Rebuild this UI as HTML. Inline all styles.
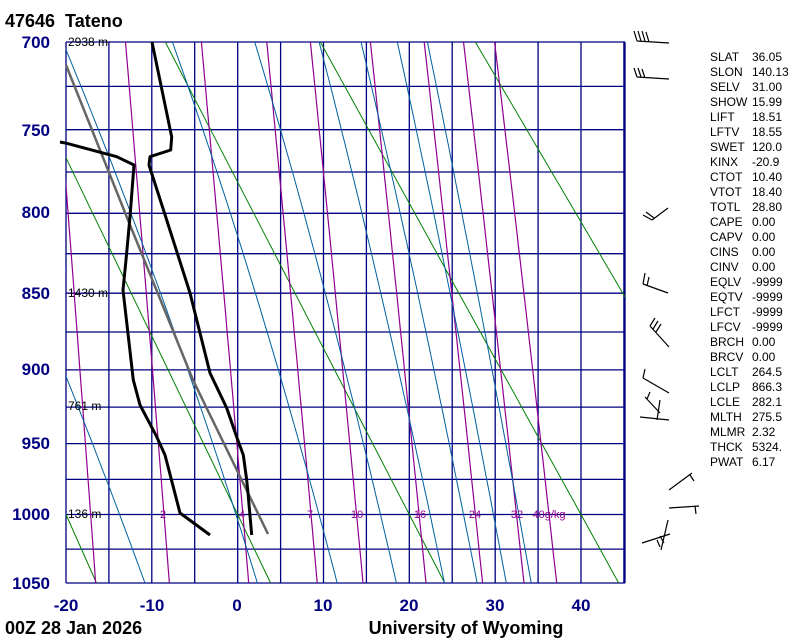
<!DOCTYPE html>
<html><head><meta charset="utf-8">
<style>
html,body{margin:0;padding:0;background:#fff;}
svg{display:block;}
.ax{font-family:"Liberation Sans",sans-serif;font-weight:bold;font-size:17px;fill:#000080;}
.ttl{font-family:"Liberation Sans",sans-serif;font-weight:bold;font-size:18px;fill:#000;white-space:pre;}
.hm{font-family:"Liberation Sans",sans-serif;font-size:12px;fill:#000;}
.mr{font-family:"Liberation Sans",sans-serif;font-size:11px;fill:#900090;}
.tb{font-family:"Liberation Sans",sans-serif;font-size:12px;fill:#000;}
</style></head>
<body>
<svg id="s" width="800" height="640" viewBox="0 0 800 640" xmlns="http://www.w3.org/2000/svg">
<defs><clipPath id="c"><rect x="66" y="42" width="559" height="541"/></clipPath></defs>
<g id="grid"></g>
<g id="curves" clip-path="url(#c)"></g>
<g id="prof"></g>
<text class="ttl" x="5" y="27" xml:space="preserve">47646  Tateno</text>
<text class="ttl" x="5" y="634">00Z 28 Jan 2026</text>
<text class="ttl" x="466" y="634" text-anchor="middle">University of Wyoming</text>
<g class="ax" text-anchor="end">
<text x="50" y="48">700</text>
<text x="50" y="136">750</text>
<text x="50" y="218">800</text>
<text x="50" y="299">850</text>
<text x="50" y="375">900</text>
<text x="50" y="449">950</text>
<text x="50" y="520">1000</text>
<text x="50" y="589">1050</text>
</g>
<g class="ax" text-anchor="middle">
<text x="66" y="611">-20</text>
<text x="152" y="611">-10</text>
<text x="237" y="611">0</text>
<text x="323" y="611">10</text>
<text x="409" y="611">20</text>
<text x="495" y="611">30</text>
<text x="581" y="611">40</text>
</g>
<g class="hm">
<text x="68" y="46">2938 m</text>
<text x="68" y="297">1430 m</text>
<text x="68" y="410">761 m</text>
<text x="68" y="518">136 m</text>
</g>
<g class="mr" text-anchor="middle">
<text x="163" y="518">2</text>
<text x="242" y="518">4</text>
<text x="310" y="518">7</text>
<text x="357" y="518">10</text>
<text x="420" y="518">16</text>
<text x="475" y="518">24</text>
<text x="517" y="518">32</text>
<text x="549" y="518">40g/kg</text>
</g>
<g class="tb">
<text x="710" y="61">SLAT</text><text x="752" y="61">36.05</text>
<text x="710" y="76">SLON</text><text x="752" y="76">140.13</text>
<text x="710" y="91">SELV</text><text x="752" y="91">31.00</text>
<text x="710" y="106">SHOW</text><text x="752" y="106">15.99</text>
<text x="710" y="121">LIFT</text><text x="752" y="121">18.51</text>
<text x="710" y="136">LFTV</text><text x="752" y="136">18.55</text>
<text x="710" y="151">SWET</text><text x="752" y="151">120.0</text>
<text x="710" y="166">KINX</text><text x="752" y="166">-20.9</text>
<text x="710" y="181">CTOT</text><text x="752" y="181">10.40</text>
<text x="710" y="196">VTOT</text><text x="752" y="196">18.40</text>
<text x="710" y="211">TOTL</text><text x="752" y="211">28.80</text>
<text x="710" y="226">CAPE</text><text x="752" y="226">0.00</text>
<text x="710" y="241">CAPV</text><text x="752" y="241">0.00</text>
<text x="710" y="256">CINS</text><text x="752" y="256">0.00</text>
<text x="710" y="271">CINV</text><text x="752" y="271">0.00</text>
<text x="710" y="286">EQLV</text><text x="752" y="286">-9999</text>
<text x="710" y="301">EQTV</text><text x="752" y="301">-9999</text>
<text x="710" y="316">LFCT</text><text x="752" y="316">-9999</text>
<text x="710" y="331">LFCV</text><text x="752" y="331">-9999</text>
<text x="710" y="346">BRCH</text><text x="752" y="346">0.00</text>
<text x="710" y="361">BRCV</text><text x="752" y="361">0.00</text>
<text x="710" y="376">LCLT</text><text x="752" y="376">264.5</text>
<text x="710" y="391">LCLP</text><text x="752" y="391">866.3</text>
<text x="710" y="406">LCLE</text><text x="752" y="406">282.1</text>
<text x="710" y="421">MLTH</text><text x="752" y="421">275.5</text>
<text x="710" y="436">MLMR</text><text x="752" y="436">2.32</text>
<text x="710" y="451">THCK</text><text x="752" y="451">5324.</text>
<text x="710" y="466">PWAT</text><text x="752" y="466">6.17</text>
</g>
<g stroke="#000" stroke-width="1.2" fill="none">
<path d="M637,41 L669,43 M637,41 L634,31 M641,41 L638,31 M645,41 L642,31 M649,42 L646,32"/>
<path d="M637,77 L669,79 M637,77 L634,68 M641,77 L638,68 M645,78 L642,69"/>
<path d="M668,208 L652,220 M652,220 L643,215 M654,218 L646,212"/>
<path d="M668,293 L643,284 M643,284 L645,273 M647,286 L649,277"/>
<path d="M669,347 L650,326 M650,326 L655,318 M653,329 L658,321 M656,332 L661,324"/>
<path d="M669,393 L643,378 M643,378 L645,369"/>
<path d="M660,413 L645,397 M647,399 L650,392"/>
<path d="M640,417 L669,420 M660,400 L657,420"/>
<path d="M669,490 L692,473 M690,475 L694,481"/>
<path d="M669,508 L699,506 M695,506 L696,514"/>
<path d="M668,520 L661,550 M642,543 L670,534 M660,536 L664,543 M657,540 L660,547"/>
</g>
</svg>
<script>
(function(){
var NS="http://www.w3.org/2000/svg";
var k=0.286, a0=Math.pow(700,k), a1=Math.pow(1050,k);
function X(T){return 66+(T+20)*8.583;}
function Y(p){return 42+(Math.pow(p,k)-a0)/(a1-a0)*541;}
function line(g,pts,col,w,extra){var e=document.createElementNS(NS,"polyline");
 e.setAttribute("points",pts.map(function(q){return q[0].toFixed(1)+","+q[1].toFixed(1);}).join(" "));
 e.setAttribute("fill","none");e.setAttribute("stroke",col);e.setAttribute("stroke-width",w);
 if(extra)e.setAttribute("stroke-linejoin","round");g.appendChild(e);}
var grid=document.getElementById("grid"), cv=document.getElementById("curves"), pr=document.getElementById("prof");
[-20,0,20,40,60,80].forEach(function(th){var pts=[];for(var p=700;p<=1050;p+=50){pts.push([X((th+273.15)*Math.pow(p/1000,k)-273.15),Y(p)]);}line(cv,pts,"#008000",1);});
function es(T){return 6.112*Math.exp(17.67*T/(T+243.5));}
[1,2,4,7,10,16,24,32,40].forEach(function(w){var pts=[];for(var p=700;p<=1050;p+=10){var e=w*p/(622+w);var l=Math.log(e/6.112);var Td=243.5*l/(17.67-l);pts.push([X(Td),Y(p)]);}line(cv,pts,"#900090",1.2);});
var Rd=287.04,cp=1005.7,Lv=2.5e6,eps=0.622;
[-10.8,2.3,11.6,18.5,24.1,27.9,31.3,34.2].forEach(function(T0){var T=T0+273.15,pts=[[X(T0),Y(1050)]];
 for(var p=1050;p>700;p-=1){var rs=eps*es(T-273.15)/(p-es(T-273.15));var d=(Rd*T+Lv*rs)/(cp+Lv*Lv*rs*eps/(Rd*T*T));T-=d*(1/p);if(p%10==1)pts.push([X(T-273.15),Y(p-1)]);}
 line(cv,pts,"#005fa0",1);});
for(var T=-20;T<=45;T+=5){line(grid,[[X(T),42],[X(T),583]],"#000080",1.3);}
line(grid,[[625,42],[625,583]],"#000080",1.3);
for(var p=700;p<=1050;p+=25){line(grid,[[66,Y(p)],[625,Y(p)]],"#000080",1.3);}
line(pr,[[268,534],[193,380],[128,220],[66,65]],"#666",2.5);
line(pr,[[152,42],[171.7,137],[170.7,150],[150,156.7],[149,165],[166.7,220],[190,293],[210,373],[226.7,408],[236.7,437],[243.3,455],[246.7,480],[248,493],[251.7,535]],"#000",3,1);
line(pr,[[60,142],[66.7,143.3],[116.7,156.7],[134,165],[130,216.7],[126,260],[123,290],[133.3,380],[140,405],[156.7,436.7],[165,455],[180,513],[210,535]],"#000",3,1);
})();
</script>
</body></html>
